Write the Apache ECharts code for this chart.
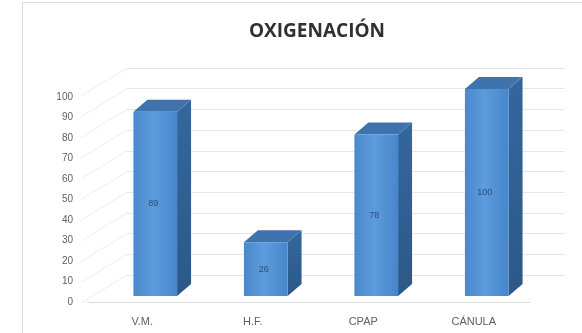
<!DOCTYPE html>
<html>
<head>
<meta charset="utf-8">
<script src="https://cdn.jsdelivr.net/npm/echarts@6/dist/echarts.min.js"></script>
<style>
  html, body { margin: 0; padding: 0; background: #ffffff; }
  #chart { width: 582px; height: 333px; }
</style>
</head>
<body>
<div id="chart"></div>
<script>
// Oxygenation methods and their counts
const categories = ['V.M.', 'H.F.', 'CPAP', 'CÁNULA'];
const values = [89, 26, 78, 100];
const yTicks = [0, 10, 20, 30, 40, 50, 60, 70, 80, 90, 100];

const chart = echarts.init(document.getElementById('chart'), null, { renderer: 'canvas' });

// 3D bar depth (pixels)
const DX = 14, DY = -12;

function renderBar3D(params, api) {
  const idx = api.value(0);
  const v = api.value(1);
  const top = api.coord([idx, v]);
  const base = api.coord([idx, 0]);
  const w = api.size([1, 0])[0] * 0.395;
  const x0 = top[0] - w / 2, x1 = top[0] + w / 2;
  const yT = top[1], yB = base[1];
  return {
    type: 'group',
    children: [
      {
        type: 'polygon',
        shape: { points: [[x1, yT], [x1 + DX, yT + DY], [x1 + DX, yB + DY], [x1, yB]] },
        style: {
          fill: new echarts.graphic.LinearGradient(0, 0, 0, 1, [
            { offset: 0, color: '#34679f' },
            { offset: 1, color: '#2b5888' }
          ])
        }
      },
      {
        type: 'polygon',
        shape: { points: [[x0, yT], [x0 + DX, yT + DY], [x1 + DX, yT + DY], [x1, yT]] },
        style: { fill: '#3f73ad' }
      },
      {
        type: 'rect',
        shape: { x: x0, y: yT, width: w, height: yB - yT },
        style: {
          fill: new echarts.graphic.LinearGradient(0, 0, 1, 0, [
            { offset: 0, color: '#4a88ca' },
            { offset: 0.45, color: '#5c9bdc' },
            { offset: 1, color: '#4886cc' }
          ])
        }
      },
      {
        type: 'text',
        style: {
          text: String(v),
          x: top[0] - 2,
          y: (yT + yB) / 2,
          align: 'center',
          verticalAlign: 'middle',
          fill: '#2c4c78',
          font: '9px "Liberation Sans", Arial, sans-serif'
        }
      }
    ]
  };
}

// Slanted guide lines on the side wall, one per tick
function renderSideLines(params, api) {
  const v = api.value(1);
  const p = api.coord([0, v]);
  const x = params.coordSys.x;
  return {
    type: 'line',
    shape: { x1: x, y1: p[1], x2: x - 46, y2: p[1] + 28 },
    style: { stroke: '#f5ebe4', lineWidth: 1 }
  };
}

const option = {
  backgroundColor: '#ffffff',
  animation: false,
  title: {
    text: 'OXIGENACIÓN',
    left: 312,
    top: 17,
    textAlign: 'center',
    textStyle: {
      fontFamily: '"Open Sans", "Liberation Sans", sans-serif',
      fontWeight: 'bold',
      fontSize: 19,
      color: '#303030'
    }
  },
  graphic: [
    {
      type: 'rect',
      shape: { x: 22.5, y: 2.5, width: 600, height: 400 },
      style: { fill: 'none', stroke: '#dcdcdc', lineWidth: 1 },
      z: -10
    }
  ],
  grid: [
    // back wall
    { left: 127, right: 17, top: 68, bottom: 58 },
    // front axis (value labels and floor line)
    { left: 87, right: 52, top: 97, bottom: 31 },
    // bars
    { left: 100, right: 40, top: 89, bottom: 37 }
  ],
  xAxis: [
    { type: 'category', gridIndex: 0, data: ['wall'], show: false },
    {
      type: 'category', gridIndex: 1, data: categories,
      axisLine: { show: true, lineStyle: { color: '#dadada' } },
      axisTick: { show: false }, axisLabel: { show: false }
    },
    {
      type: 'category', gridIndex: 2, data: categories,
      axisLine: { show: false }, axisTick: { show: false },
      axisLabel: {
        margin: 20,
        padding: [0, 26, 0, 0],
        color: '#606060',
        fontSize: 11,
        fontFamily: '"Liberation Sans", Arial, sans-serif'
      }
    }
  ],
  yAxis: [
    {
      type: 'value', gridIndex: 0, min: 0, max: 100, interval: 10,
      axisLine: { show: false }, axisTick: { show: false }, axisLabel: { show: false },
      splitLine: { show: true, lineStyle: { color: '#e6e6e6', width: 1 } }
    },
    {
      type: 'value', gridIndex: 1, min: 0, max: 100, interval: 10,
      axisLine: { show: false }, axisTick: { show: false },
      splitLine: { show: false },
      axisLabel: {
        margin: 14,
        color: '#606060',
        fontSize: 10,
        fontFamily: '"Liberation Sans", Arial, sans-serif'
      }
    },
    {
      type: 'value', gridIndex: 2, min: 0, max: 100, interval: 10,
      show: false, splitLine: { show: false }
    }
  ],
  series: [
    {
      type: 'custom',
      xAxisIndex: 0, yAxisIndex: 0,
      renderItem: renderSideLines,
      data: yTicks.map(t => [0, t]),
      silent: true,
      z: 1
    },
    {
      type: 'custom',
      xAxisIndex: 2, yAxisIndex: 2,
      renderItem: renderBar3D,
      data: values.map((v, i) => [i, v]),
      z: 5
    }
  ]
};

chart.setOption(option);
</script>
</body>
</html>
